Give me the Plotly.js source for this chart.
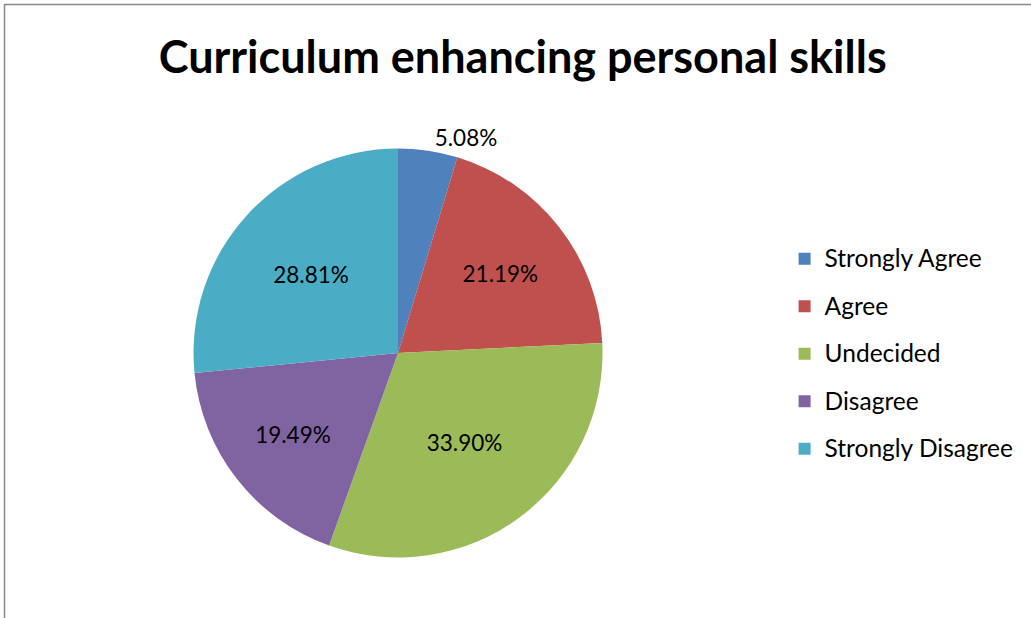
<!DOCTYPE html>
<html>
<head>
<meta charset="utf-8">
<script src="https://cdn.plot.ly/plotly-3.0.1.min.js"></script>
<style>
html,body{margin:0;padding:0;background:#fff;}
#chart{width:1031px;height:618px;}
</style>
</head>
<body>
<div id="chart"></div>
<script>
const categories = ["Strongly Agree", "Agree", "Undecided", "Disagree", "Strongly Disagree"];
const percentValues = [5.08, 21.19, 33.90, 19.49, 28.81];
const sliceColors = ["#4F81BD", "#C0504D", "#9BBB59", "#8064A2", "#4BACC6"];
const titleText = "Curriculum enhancing personal skills";

const FONT = "Lato, 'Liberation Sans', sans-serif";
const legendLabels = categories.map(c => "<span style='font-size:24.5px;baseline-shift:5px'>" + c + "</span>");

const trace = {
  type: "pie",
  labels: legendLabels,
  values: percentValues,
  sort: false,
  direction: "clockwise",
  rotation: 0,
  marker: {colors: sliceColors, line: {width: 0}},
  texttemplate: "%{value:.2f}%",
  textposition: ["outside", "inside", "inside", "inside", "inside"],
  insidetextorientation: "horizontal",
  textfont: {family: FONT, size: 22.5, color: "#000"},
  outsidetextfont: {family: FONT, size: 22.5, color: "#000"},
  insidetextfont: {family: FONT, size: 22.5, color: "#000"},
  domain: {x: [0.1877, 0.5844], y: [0.0979, 0.7597]},
  hoverinfo: "none",
  automargin: false
};

const layout = {
  width: 1031, height: 618,
  margin: {l: 0, r: 0, t: 0, b: 0},
  paper_bgcolor: "#fff",
  title: {text: "<b>" + titleText + "</b>", font: {family: FONT, size: 45, color: "#000"},
          x: 0.507, xanchor: "center", y: 0.907, yanchor: "middle"},
  showlegend: true,
  legend: {x: 0.761, xanchor: "left", y: 0.427, yanchor: "middle",
           font: {family: FONT, size: 34.2, color: "#000"}, bgcolor: "rgba(0,0,0,0)"},
  shapes: [{type: "rect", xref: "paper", yref: "paper", x0: 4.5/1031, x1: 1.2, y0: -0.2, y1: 1 - 4.5/618,
            line: {color: "#888", width: 1.5}, fillcolor: "rgba(0,0,0,0)"}]
};

Plotly.newPlot("chart", [trace], layout, {displayModeBar: false, staticPlot: true});
</script>
</body>
</html>
